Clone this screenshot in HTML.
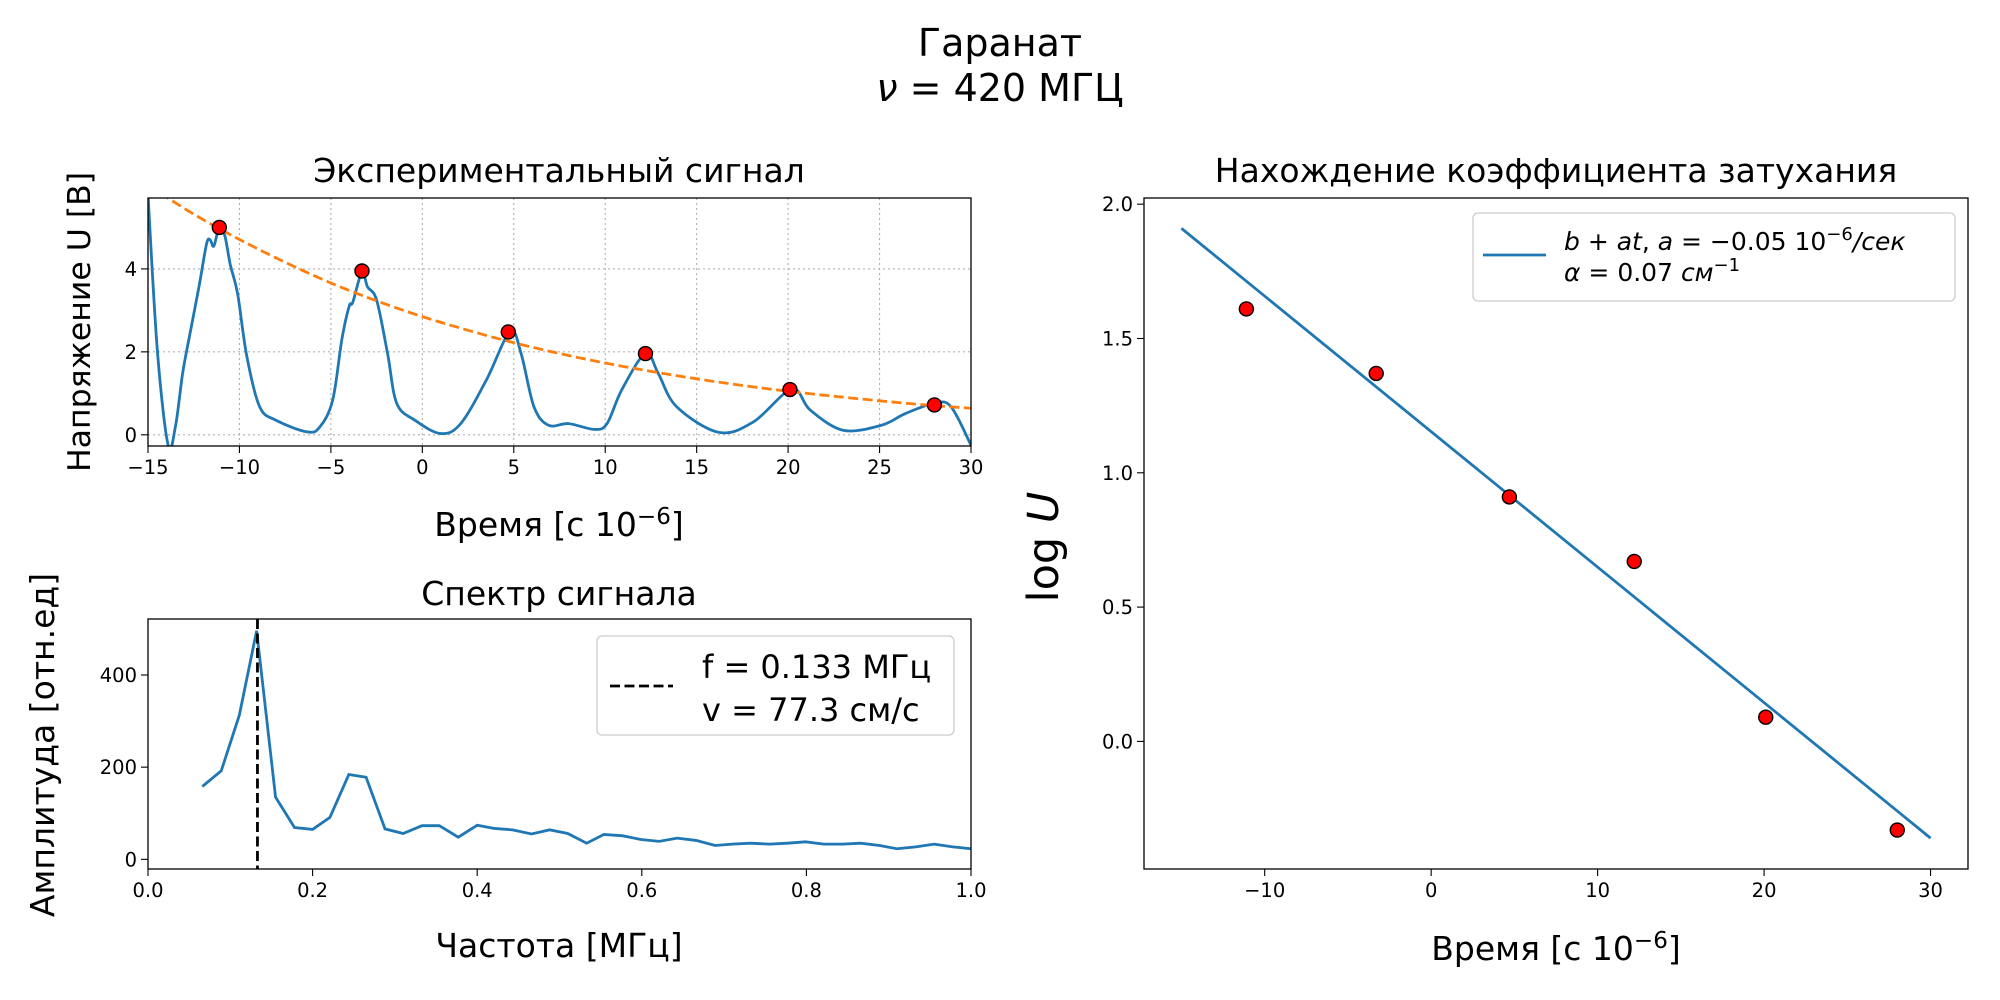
<!DOCTYPE html>
<html><head><meta charset="utf-8"><style>
body{margin:0;background:#fff;}
svg{display:block;font-family:"DejaVu Sans","Liberation Sans",sans-serif;}
</style></head><body>
<svg id="fig" width="2000" height="1000" viewBox="0 0 2000 1000" xmlns="http://www.w3.org/2000/svg">
<rect width="2000" height="1000" fill="#fff"/>
<text x="1000" y="56" font-size="38" text-anchor="middle">Гаранат</text>
<text x="1000" y="101" font-size="38" text-anchor="middle"><tspan font-style="italic">ν</tspan> = 420 МГЦ</text>
<g id="g1"></g>
<g id="g2"></g>
<g id="g3"></g>
</svg>
<script>
// ---- signal panel data ----
const sigT=[-15.05,-14.5,-13.9,-13.5,-13.1,-12.7,-12.2,-11.8,-11.6,-11.4,-11.1,-10.8,-10.5,-10.1,-9.6,-8.9,-8.0,-6.3,-5.6,-4.9,-4.4,-4.0,-3.8,-3.3,-3.0,-2.5,-1.9,-1.4,-0.4,1.0,2.1,3.5,4.8,5.4,6.1,6.9,8.0,9.4,10.1,10.9,12.2,12.9,13.9,16.2,18.1,20.2,21.2,23.0,25.1,26.4,28.0,28.9,30.0];
const sigU=[6.2,2.1,-0.25,0.2,1.5,2.45,3.6,4.6,4.7,4.55,5.0,4.8,4.1,3.4,1.9,0.68,0.35,0.07,0.19,0.84,2.3,3.1,3.2,3.93,3.57,3.25,1.96,0.76,0.35,0.03,0.27,1.32,2.49,1.96,0.68,0.23,0.27,0.13,0.27,1.08,1.96,1.48,0.68,0.06,0.31,1.1,0.6,0.11,0.23,0.51,0.76,0.68,-0.25];
const fitT=[-15,-12.5,-10,-7.5,-5,-2.5,0,2.5,5,7.5,10,12.5,15,17.5,20,22.5,25,27.5,30];
const fitU=[6.02,5.32,4.71,4.16,3.66,3.23,2.85,2.52,2.22,1.96,1.73,1.53,1.35,1.19,1.05,0.93,0.82,0.72,0.64];
const peakT=[-11.1,-3.3,4.7,12.2,20.1,28.0];
const peakU=[5.0,3.95,2.48,1.96,1.09,0.72];
const sigXTicks=[-15,-10,-5,0,5,10,15,20,25,30];
const sigYTicks=[0,2,4];
// ---- spectrum data ----
const specF=[0.066,0.089,0.111,0.132,0.155,0.178,0.2,0.221,0.244,0.265,0.288,0.31,0.333,0.354,0.377,0.4,0.421,0.443,0.466,0.488,0.51,0.533,0.554,0.577,0.599,0.621,0.643,0.666,0.689,0.71,0.732,0.755,0.777,0.799,0.821,0.844,0.866,0.889,0.91,0.933,0.955,0.978,1.0];
const specA=[158,192,313,496,135,69,65,91,184,178,66,56,73,73,48,74,67,64,55,64,56,35,54,51,43,39,46,41,30,33,35,33,35,38,33,33,35,30,23,27,33,27,23];
const peakF=[0.133];
const specXTicks=[0,0.2,0.4,0.6,0.8,1.0];
const specYTicks=[0,200,400];
// ---- decay data ----
const logT=[-11.1,-3.3,4.7,12.2,20.1,28.0];
const logU=[1.61,1.37,0.91,0.67,0.09,-0.33];
const lineT=[-15,30];
const lineU=[1.91,-0.36];
const logXTicks=[-10,0,10,20,30];
const logYTicks=[0.0,0.5,1.0,1.5,2.0];

const NS='http://www.w3.org/2000/svg';
function mk(parent,tag,attrs){const e=document.createElementNS(NS,tag);for(const k in attrs)e.setAttribute(k,attrs[k]);parent.appendChild(e);return e;}
function scale(d0,d1,r0,r1){return v=>r0+(v-d0)/(d1-d0)*(r1-r0);}
function smoothPath(pts){let d='M'+pts[0][0]+','+pts[0][1];for(let i=0;i<pts.length-1;i++){const p0=pts[i-1]||pts[i],p1=pts[i],p2=pts[i+1],p3=pts[i+2]||p2;const c1x=p1[0]+(p2[0]-p0[0])/6,c1y=p1[1]+(p2[1]-p0[1])/6,c2x=p2[0]-(p3[0]-p1[0])/6,c2y=p2[1]-(p3[1]-p1[1])/6;d+=` C${c1x},${c1y} ${c2x},${c2y} ${p2[0]},${p2[1]}`;}return d;}
function fmt(v,dec){return (v<0?'\u2212':'')+Math.abs(v).toFixed(dec);}

function axes(g,id,L,R,T,B,x,y,xt,yt,xdec,ydec,grid){
  mk(mk(document.querySelector('svg'),'clipPath',{id:id}),'rect',{x:L,y:T,width:R-L,height:B-T});
  if(grid){xt.forEach(v=>{const l=mk(g,'line',{x1:x(v),x2:x(v),y1:T,y2:B,stroke:'#b0b0b0','stroke-width':1.1,'stroke-dasharray':'2,3'});});
  yt.forEach(v=>{const l=mk(g,'line',{x1:L,x2:R,y1:y(v),y2:y(v),stroke:'#b0b0b0','stroke-width':1.1,'stroke-dasharray':'2,3'});});}
  xt.forEach(v=>{const X=x(v);mk(g,'line',{x1:X,x2:X,y1:B,y2:B+7,stroke:'#000','stroke-width':1.1});const t=mk(g,'text',{x:X,y:B+28,'font-size':19.5,'text-anchor':'middle'});t.textContent=fmt(v,xdec);});
  yt.forEach(v=>{const Y=y(v);mk(g,'line',{x1:L-7,x2:L,y1:Y,y2:Y,stroke:'#000','stroke-width':1.1});const t=mk(g,'text',{x:L-11,y:Y+7,'font-size':19.5,'text-anchor':'end'});t.textContent=fmt(v,ydec);});
}
function frame(g,L,R,T,B){const r=mk(g,'rect',{x:L,y:T,width:R-L,height:B-T,fill:'none',stroke:'#000','stroke-width':1.3});}
function label(g,txt,x,y,size,rot,name){const t=mk(g,'text',{x:x,y:y,'font-size':size,'text-anchor':'middle'});if(rot)t.setAttribute('transform',`rotate(-90 ${x} ${y})`);t.innerHTML=txt;return t;}

// Panel 1
(function(){const g=document.getElementById('g1');const L=148,R=971,T=198,B=446;
const x=scale(-15,30,L,R),y=scale(-0.27,5.71,B,T);
axes(g,'c1',L,R,T,B,x,y,sigXTicks,sigYTicks,0,0,true);
const s=mk(g,'path',{d:smoothPath(sigT.map((t,i)=>[x(t),y(sigU[i])])),fill:'none',stroke:'#1f77b4','stroke-width':2.8,'clip-path':'url(#c1)'});

const f=mk(g,'path',{d:smoothPath(fitT.map((t,i)=>[x(t),y(fitU[i])])),fill:'none',stroke:'#ff7f0e','stroke-width':2.8,'stroke-dasharray':'10,4.5','clip-path':'url(#c1)'});

peakT.forEach((t,i)=>{const c=mk(g,'circle',{cx:x(t),cy:y(peakU[i]),r:7,fill:'#f00',stroke:'#000','stroke-width':1.4});});
frame(g,L,R,T,B);
label(g,'Экспериментальный сигнал',559,182,33,false,'signal-title');
label(g,'Время [с 10<tspan dy="-12" font-size="23">−6</tspan><tspan dy="12">]</tspan>',559,536,33,false,'signal-x-label');
label(g,'Напряжение U [В]',90,322,31.5,true,'signal-y-label');
})();
// Panel 2
(function(){const g=document.getElementById('g2');const L=148,R=971,T=619,B=869;
const x=scale(0,1,L,R),y=scale(-21,521.5,B,T);
axes(g,'c2',L,R,T,B,x,y,specXTicks,specYTicks,1,0,false);
const s=mk(g,'polyline',{points:specF.map((f,i)=>x(f)+','+y(specA[i])).join(' '),fill:'none',stroke:'#1f77b4','stroke-width':2.8,'clip-path':'url(#c2)'});

peakF.forEach(f=>{const l=mk(g,'line',{x1:x(f),x2:x(f),y1:T,y2:B,stroke:'#000','stroke-width':2.8,'stroke-dasharray':'10,4.5'});});
frame(g,L,R,T,B);
const lg=mk(g,'g',{});
mk(lg,'rect',{x:597,y:636,width:357,height:99,rx:5,fill:'#fff','fill-opacity':0.8,stroke:'#ccc','stroke-width':1.3});
mk(lg,'line',{x1:610,x2:673,y1:686,y2:686,stroke:'#000','stroke-width':2.8,'stroke-dasharray':'10,4.5'});
const t1=mk(lg,'text',{x:702,y:678,'font-size':32});t1.textContent='f = 0.133 МГц';
const t2=mk(lg,'text',{x:702,y:721,'font-size':32});t2.textContent='v = 77.3 см/с';
label(g,'Спектр сигнала',559,605,33,false,'spectrum-title');
label(g,'Частота [МГц]',559,957,33,false,'spectrum-x-label');
label(g,'Амплитуда [отн.ед]',54,745,33,true,'spectrum-y-label');
})();
// Panel 3
(function(){const g=document.getElementById('g3');const L=1144,R=1968,T=198,B=869;
const x=scale(-17.25,32.25,L,R),y=scale(-0.475,2.023,B,T);
axes(g,'c3',L,R,T,B,x,y,logXTicks,logYTicks,0,1,false);
const l=mk(g,'polyline',{points:lineT.map((t,i)=>x(t)+','+y(lineU[i])).join(' '),fill:'none',stroke:'#1f77b4','stroke-width':2.8});

logT.forEach((t,i)=>{const c=mk(g,'circle',{cx:x(t),cy:y(logU[i]),r:7,fill:'#f00',stroke:'#000','stroke-width':1.4});});
frame(g,L,R,T,B);
const lg=mk(g,'g',{});
mk(lg,'rect',{x:1473,y:213,width:482,height:88,rx:5,fill:'#fff','fill-opacity':0.8,stroke:'#ccc','stroke-width':1.3});
mk(lg,'line',{x1:1483,x2:1546,y1:255,y2:255,stroke:'#1f77b4','stroke-width':2.8});
const t1=mk(lg,'text',{x:1564,y:250,'font-size':25});t1.innerHTML='<tspan font-style="italic">b</tspan> + <tspan font-style="italic">at</tspan>, <tspan font-style="italic">a</tspan> = −0.05  10<tspan dy="-10" font-size="18">−6</tspan><tspan dy="10" font-style="italic">/сек</tspan>';
const t2=mk(lg,'text',{x:1564,y:281,'font-size':25});t2.innerHTML='<tspan font-style="italic">α</tspan> = 0.07 <tspan font-style="italic">см</tspan><tspan dy="-10" font-size="18">−1</tspan>';
label(g,'Нахождение коэффициента затухания',1556,182,33,false,'decay-title');
label(g,'Время [с 10<tspan dy="-12" font-size="23">−6</tspan><tspan dy="12">]</tspan>',1556,960,33,false,'decay-x-label');
label(g,'log <tspan font-style="italic">U</tspan>',1058,547,43,true,'decay-y-label');
})();
</script>
</body></html>
